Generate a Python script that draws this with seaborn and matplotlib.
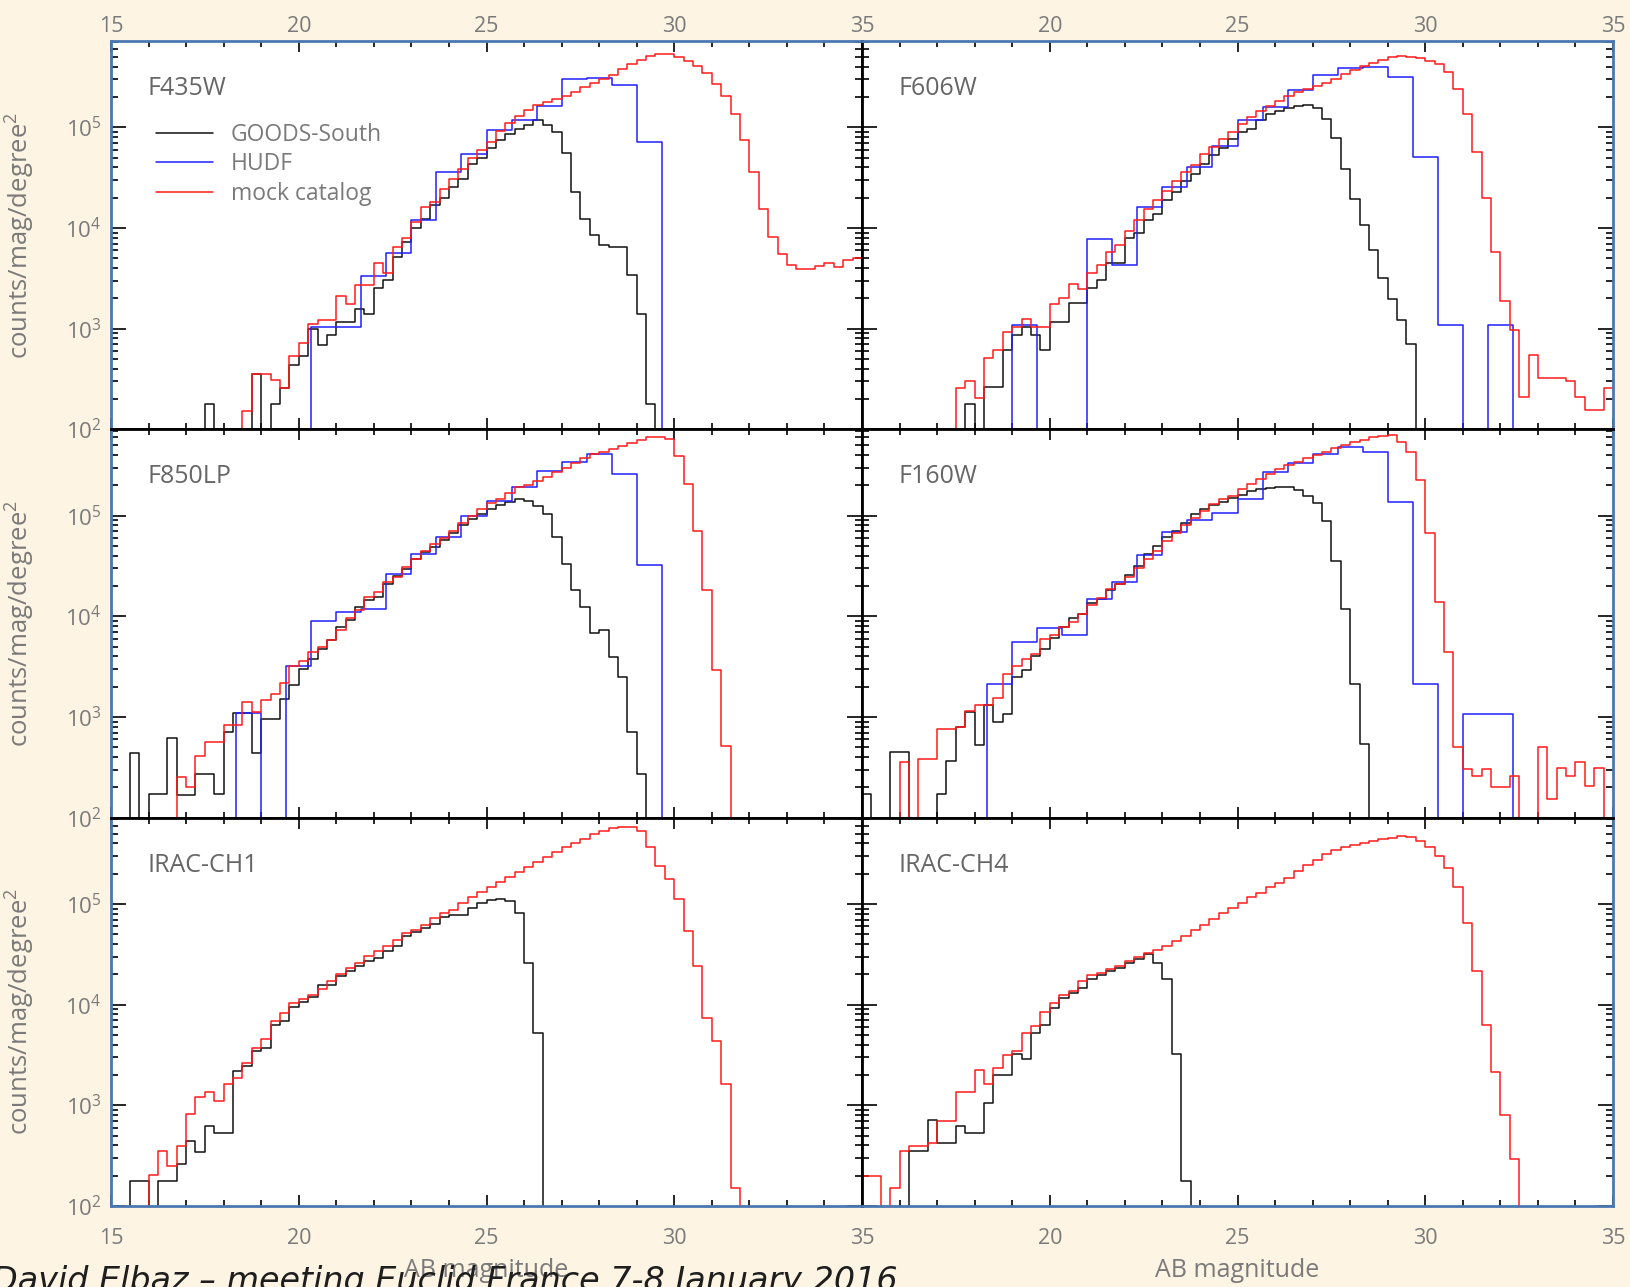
import numpy as np
import pandas as pd
import matplotlib
matplotlib.use("Agg")
import matplotlib.pyplot as plt
import seaborn as sns
from matplotlib.lines import Line2D
from matplotlib.ticker import MultipleLocator, LogLocator, NullFormatter, FuncFormatter

# magnitude range and bin widths of the histograms
MAG_MIN, MAG_MAX = 15.0, 35.0
FINE = 0.25        # GOODS-South and mock catalog bins
COARSE = 2.0 / 3   # HUDF bins

# each series: (first bin left edge, log10 counts/mag/deg^2 per bin, None = empty bin)
f435w_goods = (17.5, [2.25, None, None, None, None, 2.55, None, 2.25, 2.41, 2.64,
                      2.73, 3.00, 2.84, 2.94, 3.07, 3.07, 3.20, 3.15, 3.40, 3.48,
                      3.71, 3.86, 4.00, 4.09, 4.23, 4.30, 4.41, 4.49, 4.64, 4.70,
                      4.79, 4.87, 4.93, 4.98, 5.02, 5.07, 5.02, 4.95, 4.74, 4.36,
                      4.09, 3.93, 3.83, 3.81, 3.81, 3.53, 3.15, 2.25])
f435w_hudf = (20.33, [3.02, 3.02, 3.52, 3.75, 4.08, 4.56, 4.73, 4.97, 5.07, 5.21,
                      5.48, 5.49, 5.42, 4.85])
f435w_mock = (18.5, [2.18, 2.55, 2.55, 2.49, 2.41, 2.73, 2.86, 3.05, 3.09, 3.09,
                     3.32, 3.24, 3.43, 3.43, 3.65, 3.55, 3.81, 3.90, 4.06, 4.21,
                     4.26, 4.39, 4.49, 4.59, 4.70, 4.77, 4.85, 4.96, 5.04, 5.11,
                     5.17, 5.22, 5.25, 5.28, 5.31, 5.35, 5.40, 5.44, 5.48, 5.52,
                     5.58, 5.63, 5.67, 5.71, 5.73, 5.73, 5.70, 5.66, 5.61, 5.54,
                     5.43, 5.31, 5.13, 4.87, 4.56, 4.19, 3.91, 3.74, 3.63, 3.59,
                     3.59, 3.62, 3.65, 3.61, 3.68, 3.70])

f606w_goods = (17.75, [2.25, None, 2.42, 2.42, 2.79, 2.94, 3.02, 2.94, 2.79, 3.07,
                       3.07, 3.25, 3.25, 3.40, 3.48, 3.65, 3.65, 3.90, 3.95, 4.08,
                       4.14, 4.28, 4.36, 4.47, 4.54, 4.64, 4.72, 4.79, 4.88, 4.95,
                       4.98, 5.07, 5.13, 5.16, 5.19, 5.21, 5.22, 5.19, 5.08, 4.89,
                       4.59, 4.29, 4.03, 3.78, 3.50, 3.29, 3.09, 2.85])
f606w_hudf = (19.0, [3.04, None, None, 3.89, 3.63, 4.21, 4.41, 4.61, 4.81, 5.07,
                     5.20, 5.37, 5.52, 5.59, 5.60, 5.50, 4.71, 3.04, None, 3.04])
f606w_mock = (17.5, [2.41, 2.48, 2.31, 2.71, 2.79, 2.97, 3.02, 3.10, 3.02, 3.02,
                     3.24, 3.30, 3.44, 3.39, 3.55, 3.63, 3.76, 3.83, 3.97, 4.08,
                     4.19, 4.28, 4.37, 4.47, 4.56, 4.63, 4.73, 4.80, 4.88, 4.95,
                     5.03, 5.10, 5.16, 5.21, 5.26, 5.31, 5.35, 5.38, 5.41, 5.44,
                     5.48, 5.53, 5.57, 5.61, 5.64, 5.67, 5.70, 5.71, 5.70, 5.69,
                     5.66, 5.63, 5.55, 5.38, 5.13, 4.75, 4.30, 3.76, 3.27, 2.99,
                     2.32, 2.74, 2.51, 2.51, 2.51, 2.48, 2.32, 2.19, 2.19, 2.41])

f850lp_goods = (15.5, [2.64, None, 2.24, 2.24, 2.79, 2.23, 2.23, 2.43, 2.43, 2.24,
                       2.85, 3.04, 3.04, 2.64, 2.98, 2.98, 3.18, 3.32, 3.48, 3.58,
                       3.68, 3.76, 3.89, 3.96, 4.09, 4.16, 4.19, 4.32, 4.40, 4.47,
                       4.57, 4.64, 4.69, 4.76, 4.83, 4.91, 4.97, 5.02, 5.07, 5.11,
                       5.14, 5.17, 5.15, 5.10, 5.02, 4.79, 4.52, 4.26, 4.09, 3.83,
                       3.86, 3.60, 3.40, 2.85, 2.43])
f850lp_hudf = (18.33, [3.04, None, 3.51, 3.95, 4.04, 4.07, 4.42, 4.62, 4.79, 5.00,
                       5.15, 5.28, 5.44, 5.53, 5.61, 5.41, 4.51])
f850lp_mock = (16.75, [2.40, 2.30, 2.61, 2.75, 2.75, 2.92, 2.92, 3.15, 3.05, 3.17,
                       3.23, 3.34, 3.51, 3.56, 3.65, 3.70, 3.76, 3.86, 3.98, 4.06,
                       4.19, 4.24, 4.34, 4.39, 4.49, 4.57, 4.65, 4.72, 4.78, 4.85,
                       4.93, 5.00, 5.07, 5.13, 5.17, 5.22, 5.28, 5.30, 5.34, 5.38,
                       5.43, 5.47, 5.52, 5.57, 5.61, 5.63, 5.66, 5.69, 5.72, 5.75,
                       5.78, 5.78, 5.76, 5.59, 5.31, 4.85, 4.26, 3.47, 2.71])

f160w_goods = (15.0, [2.24, None, None, 2.65, 2.65, None, None, None, 2.24, 2.56,
                      2.90, 3.05, 2.72, 3.12, 2.95, 3.03, 3.40, 3.47, 3.61, 3.68,
                      3.78, 3.89, 3.98, 4.02, 4.13, 4.17, 4.26, 4.32, 4.41, 4.50,
                      4.62, 4.70, 4.79, 4.85, 4.93, 5.02, 5.07, 5.11, 5.14, 5.18,
                      5.21, 5.24, 5.26, 5.27, 5.28, 5.28, 5.25, 5.20, 5.13, 4.95,
                      4.55, 4.07, 3.33, 2.73])
f160w_hudf = (18.33, [3.33, 3.74, 3.88, 3.81, 4.17, 4.34, 4.61, 4.84, 4.96, 5.03,
                      5.17, 5.43, 5.52, 5.61, 5.68, 5.63, 5.14, 3.33, None, 3.03,
                      3.03])
f160w_mock = (16.0, [2.55, None, 2.58, 2.58, 2.88, 2.88, 2.90, 3.06, 3.12, 3.12,
                     3.19, 3.43, 3.51, 3.58, 3.63, 3.77, 3.81, 3.89, 3.94, 4.02,
                     4.11, 4.18, 4.27, 4.32, 4.39, 4.48, 4.57, 4.65, 4.75, 4.83,
                     4.91, 4.98, 5.05, 5.12, 5.17, 5.20, 5.26, 5.31, 5.36, 5.41,
                     5.46, 5.50, 5.53, 5.57, 5.60, 5.63, 5.67, 5.70, 5.73, 5.75,
                     5.78, 5.79, 5.80, 5.73, 5.63, 5.35, 4.83, 4.14, 3.65, 2.70,
                     2.48, 2.41, 2.48, 2.30, 2.30, 2.41, None, None, 2.70, 2.19,
                     2.49, 2.41, 2.55, 2.31, 2.49])

irac1_goods = (15.5, [2.25, 2.25, None, 2.25, 2.25, 2.42, 2.65, 2.54, 2.79, 2.73,
                      2.73, 3.34, 3.39, 3.54, 3.57, 3.80, 3.84, 3.98, 4.03, 4.08,
                      4.20, 4.20, 4.28, 4.33, 4.38, 4.43, 4.46, 4.53, 4.58, 4.68,
                      4.72, 4.76, 4.80, 4.87, 4.89, 4.89, 4.96, 5.01, 5.04, 5.05,
                      5.03, 4.91, 4.41, 3.72])
irac1_mock = (16.0, [2.31, 2.55, 2.40, 2.60, 2.91, 3.08, 3.13, 3.04, 3.21, 3.27,
                     3.42, 3.57, 3.66, 3.84, 3.92, 4.02, 4.06, 4.10, 4.16, 4.23,
                     4.30, 4.36, 4.41, 4.48, 4.53, 4.58, 4.64, 4.71, 4.74, 4.79,
                     4.86, 4.91, 4.94, 5.01, 5.07, 5.12, 5.17, 5.22, 5.27, 5.32,
                     5.37, 5.42, 5.47, 5.52, 5.57, 5.61, 5.65, 5.70, 5.72, 5.75,
                     5.76, 5.76, 5.72, 5.57, 5.38, 5.25, 5.05, 4.73, 4.38, 3.87,
                     3.64, 3.21, 2.18])

irac4_goods = (16.25, [2.55, 2.55, 2.85, 2.63, 2.63, 2.79, 2.73, 2.73, 3.02, 3.30,
                       3.30, 3.51, 3.46, 3.72, 3.80, 3.97, 4.07, 4.12, 4.17, 4.25,
                       4.29, 4.33, 4.36, 4.41, 4.45, 4.50, 4.41, 4.25, 3.51, 2.25])
irac4_mock = (15.0, [2.30, 2.30, None, 2.18, 2.55, 2.60, 2.60, 2.63, 2.84, 2.84,
                     3.13, 3.13, 3.35, 3.21, 3.37, 3.50, 3.54, 3.72, 3.79, 3.93,
                     4.02, 4.10, 4.14, 4.23, 4.29, 4.31, 4.35, 4.38, 4.43, 4.47,
                     4.51, 4.54, 4.58, 4.63, 4.68, 4.74, 4.79, 4.85, 4.91, 4.96,
                     5.01, 5.07, 5.11, 5.17, 5.21, 5.26, 5.33, 5.39, 5.44, 5.50,
                     5.54, 5.57, 5.59, 5.61, 5.63, 5.65, 5.66, 5.68, 5.67, 5.63,
                     5.57, 5.48, 5.36, 5.17, 4.81, 4.33, 3.80, 3.33, 2.90, 2.47])

panels = [
    ("F435W", f435w_goods, f435w_hudf, f435w_mock),
    ("F606W", f606w_goods, f606w_hudf, f606w_mock),
    ("F850LP", f850lp_goods, f850lp_hudf, f850lp_mock),
    ("F160W", f160w_goods, f160w_hudf, f160w_mock),
    ("IRAC-CH1", irac1_goods, None, irac1_mock),
    ("IRAC-CH4", irac4_goods, None, irac4_mock),
]
survey_names = ["GOODS-South", "HUDF", "mock catalog"]
survey_colors = ["#111111", "#1f1fff", "#ff1a1a"]

BG = "#fdf4e3"
FRAME = "#4a78b0"
GREY = "#7a7a7a"


def to_hist(series, step):
    start, logs = series
    nbins = int(round((MAG_MAX - MAG_MIN) / step))
    edges = np.linspace(MAG_MIN, MAG_MAX, nbins + 1)
    counts = np.zeros(nbins)
    i0 = int(round((start - MAG_MIN) / step))
    for k, v in enumerate(logs):
        if v is not None:
            counts[i0 + k] = 10.0 ** v
    centers = 0.5 * (edges[:-1] + edges[1:])
    return pd.DataFrame({"mag": centers, "counts": counts}), edges.tolist()


sns.set_style("ticks")
plt.rcParams["font.family"] = ["Open Sans", "DejaVu Sans"]
plt.rcParams["mathtext.default"] = "regular"

fig, axes = plt.subplots(3, 2, figsize=(16.3, 12.87), dpi=100)
fig.patch.set_facecolor(BG)
fig.subplots_adjust(left=111 / 1630, right=1613 / 1630, top=1 - 41 / 1287,
                    bottom=1 - 1206 / 1287, wspace=0, hspace=0)

for idx, (name, goods, hudf, mock) in enumerate(panels):
    row, col = divmod(idx, 2)
    ax = axes[row, col]
    ax.set_facecolor("white")

    for series, step, color in [(goods, FINE, survey_colors[0]),
                                (hudf, COARSE, survey_colors[1]),
                                (mock, FINE, survey_colors[2])]:
        if series is None:
            continue
        df, edges = to_hist(series, step)
        sns.histplot(data=df, x="mag", weights="counts", bins=edges, element="step",
                     fill=False, color=color, linewidth=1.1, ax=ax)

    ax.set_yscale("log")
    ax.set_xlim(MAG_MIN, MAG_MAX)
    ax.set_ylim(1e2, 7.2e5)
    ax.set_xlabel("")
    ax.set_ylabel("")

    ax.xaxis.set_major_locator(MultipleLocator(5))
    ax.xaxis.set_minor_locator(MultipleLocator(1))
    ax.yaxis.set_major_locator(LogLocator(base=10, numticks=10))
    ax.yaxis.set_minor_locator(LogLocator(base=10, subs=np.arange(2, 10), numticks=20))
    ax.yaxis.set_minor_formatter(NullFormatter())
    if col == 1:
        ax.xaxis.set_major_formatter(FuncFormatter(lambda v, p: "" if v == 15 else f"{v:g}"))
    else:
        ax.xaxis.set_major_formatter(FuncFormatter(lambda v, p: f"{v:g}"))

    ax.tick_params(which="both", direction="in", top=True, bottom=True, left=True,
                   right=True, labeltop=(row == 0), labelbottom=(row == 2),
                   labelleft=(col == 0), labelright=False, color="black",
                   labelcolor=GREY, width=1.2)
    ax.tick_params(axis="x", which="major", length=8, labelsize=15.5,
                   pad=(3 if row == 0 else 16))
    ax.tick_params(axis="x", which="minor", length=4.5)
    ax.tick_params(axis="y", which="major", length=11, labelsize=16, pad=7)
    ax.tick_params(axis="y", which="minor", length=5)

    for side in ["top", "bottom", "left", "right"]:
        ax.spines[side].set_linewidth(2)
        ax.spines[side].set_color("black")
    if row == 0:
        ax.spines["top"].set_color(FRAME)
    if row == 2:
        ax.spines["bottom"].set_color(FRAME)
    if col == 0:
        ax.spines["left"].set_color(FRAME)
    else:
        ax.spines["right"].set_color(FRAME)

    ax.text(0.049, 0.878, name, transform=ax.transAxes, fontsize=18,
            color="#666666", va="center", ha="left")

    if col == 0:
        ax.set_ylabel("counts/mag/degree$^2$", fontsize=18.5, color=GREY)
        ax.yaxis.set_label_coords(-0.099, 0.5)
    if row == 2:
        ax.set_xlabel("AB magnitude", fontsize=18, color=GREY)
        ax.xaxis.set_label_coords(0.5, -0.135)

handles = [Line2D([], [], color=c, lw=1.1) for c in survey_colors]
axes[0, 0].legend(handles, survey_names, loc="upper left", bbox_to_anchor=(0.06, 0.79),
                  frameon=False, fontsize=16.5, handlelength=2.5, handletextpad=0.75,
                  labelspacing=0.24, borderpad=0, borderaxespad=0, labelcolor=GREY)

fig.text(-0.005, -0.003, "David Elbaz \u2013 meeting Euclid France 7-8 January 2016",
         fontsize=24, style="italic", color="#1e1e1e", ha="left", va="baseline",
         family=["DejaVu Sans"])

fig.savefig("out.png", dpi=100, facecolor=BG)
